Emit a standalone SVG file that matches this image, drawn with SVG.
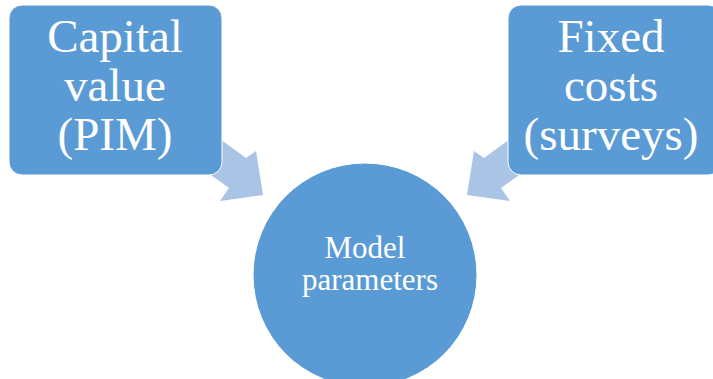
<svg xmlns="http://www.w3.org/2000/svg" width="713" height="379" viewBox="0 0 713 379">
<style>
.node{fill:#5b9bd5;stroke:#ffffff;stroke-width:1}
.arrow{fill:#aac4e6}
.big{font-family:"Liberation Serif","Times New Roman",serif;font-size:47px;fill:#ffffff;text-anchor:middle}
.small{font-family:"Liberation Serif","Times New Roman",serif;font-size:31px;fill:#ffffff;text-anchor:middle}
</style>
<rect width="713" height="379" fill="#ffffff"/>
<g id="connectors">
<polygon class="arrow" points="205,128 246,158 256,151 263,195 220,201 229,188 190,160"/>
<polygon class="arrow" points="525,128 484,158 474,151 467,195 510,201 501,188 540,160"/>
</g>
<g id="capital">
<rect class="node" x="9" y="5" width="213" height="170" rx="13"/>
<text class="big" x="115" y="52">Capital</text>
<text class="big" x="115" y="101">value</text>
<text class="big" x="115" y="150">(PIM)</text>
</g>
<g id="fixed">
<rect class="node" x="508" y="5" width="213" height="170" rx="13"/>
<text class="big" x="611" y="52">Fixed</text>
<text class="big" x="611" y="101">costs</text>
<text class="big" x="611" y="150">(surveys)</text>
</g>
<g id="model">
<circle class="node" cx="365" cy="275" r="112"/>
<text class="small" x="365" y="258">Model</text>
<text class="small" x="370" y="290">parameters</text>
</g>
</svg>
